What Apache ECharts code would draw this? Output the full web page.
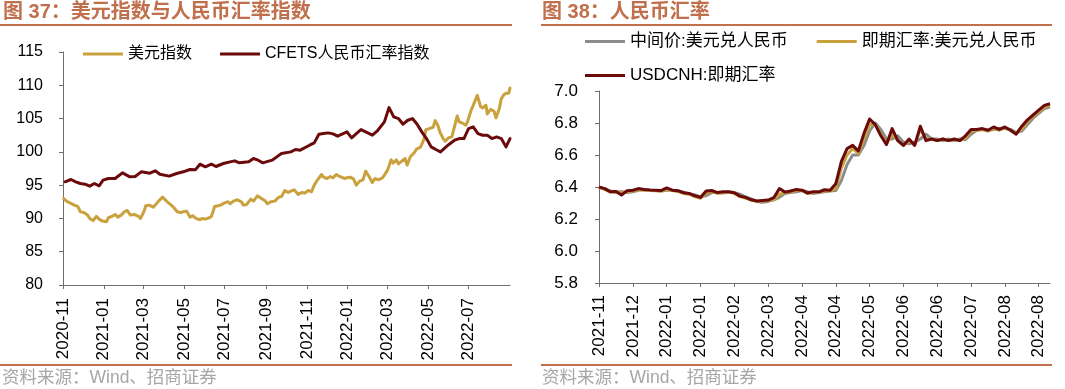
<!DOCTYPE html>
<html><head><meta charset="utf-8">
<script src="https://cdn.jsdelivr.net/npm/echarts@6/dist/echarts.min.js"></script>
<style>html,body{margin:0;padding:0;background:#fff}#c{width:1065px;height:389px}</style>
</head><body><div id="c"></div>
<script>
// ---------- Left chart data ----------
const dxyDates = ['2020-11-02','2020-11-06','2020-11-12','2020-11-18','2020-11-23','2020-11-27','2020-12-02','2020-12-07','2020-12-11','2020-12-16','2020-12-21','2020-12-25','2020-12-30','2021-01-05','2021-01-08','2021-01-13','2021-01-18','2021-01-22','2021-01-27','2021-02-01','2021-02-05','2021-02-10','2021-02-16','2021-02-22','2021-02-25','2021-03-02','2021-03-05','2021-03-10','2021-03-16','2021-03-19','2021-03-24','2021-03-30','2021-04-02','2021-04-07','2021-04-12','2021-04-16','2021-04-21','2021-04-26','2021-04-30','2021-05-05','2021-05-10','2021-05-14','2021-05-19','2021-05-25','2021-05-28','2021-06-02','2021-06-08','2021-06-11','2021-06-16','2021-06-21','2021-06-25','2021-06-30','2021-07-06','2021-07-09','2021-07-14','2021-07-20','2021-07-26','2021-07-29','2021-08-03','2021-08-09','2021-08-13','2021-08-19','2021-08-25','2021-08-31','2021-09-03','2021-09-08','2021-09-14','2021-09-20','2021-09-24','2021-09-29','2021-10-04','2021-10-08','2021-10-13','2021-10-19','2021-10-25','2021-10-29','2021-11-03','2021-11-08','2021-11-12','2021-11-17','2021-11-23','2021-11-26','2021-12-01','2021-12-06','2021-12-10','2021-12-15','2021-12-20','2021-12-27','2021-12-31','2022-01-05','2022-01-10','2022-01-14','2022-01-19','2022-01-24','2022-01-28','2022-02-02','2022-02-07','2022-02-11','2022-02-16','2022-02-22','2022-02-25','2022-03-02','2022-03-07','2022-03-10','2022-03-15','2022-03-18','2022-03-23','2022-03-28','2022-03-31','2022-04-05','2022-04-11','2022-04-14','2022-04-20','2022-04-25','2022-04-28','2022-05-03','2022-05-09','2022-05-12','2022-05-16','2022-05-19','2022-05-24','2022-05-27','2022-06-01','2022-06-06','2022-06-10','2022-06-14','2022-06-17','2022-06-22','2022-06-27','2022-06-30','2022-07-05','2022-07-08','2022-07-12','2022-07-14','2022-07-19','2022-07-22','2022-07-27','2022-07-29','2022-08-03','2022-08-08','2022-08-11','2022-08-16','2022-08-19','2022-08-23','2022-08-26','2022-08-30','2022-09-01'];
const dxyValues = [93.0,92.6,92.3,92.0,91.8,91.0,90.9,90.6,90.0,89.7,90.3,89.9,89.6,89.5,90.1,90.3,90.6,90.2,90.5,91.0,91.2,90.5,90.6,90.3,90.0,91.0,91.9,92.0,91.7,92.0,92.6,93.2,92.9,92.4,92.0,91.6,91.0,90.9,91.0,91.1,90.2,90.4,90.0,89.8,90.0,89.9,90.1,90.3,91.8,91.9,92.0,92.3,92.5,92.2,92.6,92.8,92.5,92.0,92.1,92.9,92.6,93.4,93.0,92.6,92.2,92.5,92.6,93.2,93.3,94.2,93.9,94.1,94.3,93.6,93.9,93.8,94.2,94.0,95.0,95.8,96.6,96.2,96.0,96.3,96.1,96.6,96.3,96.0,96.1,96.2,95.9,95.0,95.6,95.8,97.1,96.3,95.4,96.0,95.8,96.1,96.5,97.3,98.8,98.3,98.8,98.2,98.6,99.0,98.0,99.3,99.9,100.4,100.7,101.8,103.3,103.5,103.7,104.7,104.0,103.0,102.0,101.6,102.1,102.3,103.8,105.4,104.5,104.3,104.0,104.7,106.3,107.0,108.0,108.5,106.8,106.6,107.0,105.7,106.4,106.1,105.1,106.5,108.0,108.6,108.8,108.8,109.6];
const cfetsDates = ['2020-11-04','2020-11-13','2020-11-20','2020-11-27','2020-12-04','2020-12-11','2020-12-18','2020-12-25','2020-12-31','2021-01-08','2021-01-18','2021-01-29','2021-02-09','2021-02-17','2021-02-26','2021-03-11','2021-03-19','2021-03-26','2021-04-09','2021-04-20','2021-04-30','2021-05-10','2021-05-18','2021-05-25','2021-06-02','2021-06-11','2021-06-18','2021-06-29','2021-07-09','2021-07-16','2021-07-23','2021-08-06','2021-08-13','2021-08-20','2021-08-27','2021-09-10','2021-09-17','2021-09-24','2021-10-08','2021-10-15','2021-10-22','2021-11-05','2021-11-12','2021-11-19','2021-11-26','2021-12-03','2021-12-10','2021-12-17','2021-12-31','2022-01-07','2022-01-14','2022-01-21','2022-01-28','2022-02-07','2022-02-14','2022-02-25','2022-03-04','2022-03-11','2022-03-18','2022-03-25','2022-04-01','2022-04-08','2022-04-15','2022-04-22','2022-04-29','2022-05-06','2022-05-13','2022-05-20','2022-05-27','2022-06-02','2022-06-10','2022-06-17','2022-06-24','2022-07-01','2022-07-08','2022-07-15','2022-07-22','2022-07-29','2022-08-05','2022-08-12','2022-08-19','2022-08-26','2022-09-01'];
const cfetsValues = [95.5,95.85,95.5,95.25,95.15,94.85,95.25,94.9,95.75,96.0,96.0,96.85,96.25,96.3,97.0,96.8,97.15,96.65,96.35,96.75,97.0,97.35,97.3,98.15,97.75,98.15,97.8,98.25,98.5,98.65,98.35,98.5,99.0,98.75,98.35,98.75,99.25,99.75,100.0,100.35,100.25,101.0,101.35,102.65,102.75,102.85,102.7,102.35,103.0,102.1,102.75,103.35,103.0,102.5,103.1,104.5,106.65,105.25,105.0,104.15,104.75,105.0,104.15,103.0,102.0,100.75,100.35,100.0,100.65,101.15,101.75,102.0,102.0,103.5,103.75,102.75,102.5,102.5,102.0,102.25,102.0,100.75,102.0];
const leftTickDates = ['2020-11-01','2021-01-01','2021-03-01','2021-05-01','2021-07-01','2021-09-01','2021-11-01','2022-01-01','2022-03-01','2022-05-01','2022-07-01'];
const leftStart = '2020-11-01';
const leftEnd = '2022-09-01';

// ---------- Right chart data ----------
const rightTickLabels = ['2021-11','2021-12','2022-01','2022-01','2022-02','2022-03','2022-04','2022-04','2022-05','2022-06','2022-06','2022-07','2022-08','2022-08'];
const midRate = [6.398,6.390,6.375,6.370,6.370,6.365,6.370,6.380,6.385,6.380,6.378,6.375,6.380,6.380,6.375,6.368,6.357,6.350,6.340,6.345,6.365,6.365,6.363,6.368,6.365,6.355,6.338,6.325,6.310,6.305,6.310,6.320,6.335,6.360,6.365,6.370,6.378,6.370,6.360,6.365,6.370,6.375,6.378,6.440,6.540,6.600,6.600,6.660,6.750,6.800,6.760,6.700,6.700,6.720,6.680,6.670,6.680,6.700,6.730,6.700,6.700,6.690,6.700,6.690,6.700,6.695,6.730,6.755,6.760,6.755,6.760,6.765,6.765,6.760,6.740,6.750,6.790,6.830,6.860,6.890,6.900];
const spotRate = [6.398,6.385,6.368,6.370,6.362,6.370,6.375,6.385,6.380,6.378,6.376,6.374,6.385,6.378,6.372,6.360,6.355,6.340,6.330,6.362,6.372,6.360,6.365,6.368,6.360,6.340,6.330,6.318,6.310,6.312,6.315,6.320,6.355,6.365,6.370,6.378,6.378,6.360,6.365,6.368,6.375,6.376,6.390,6.520,6.600,6.640,6.610,6.700,6.790,6.790,6.730,6.670,6.730,6.690,6.660,6.690,6.665,6.760,6.700,6.700,6.690,6.700,6.690,6.695,6.690,6.705,6.750,6.755,6.760,6.750,6.765,6.755,6.770,6.755,6.735,6.760,6.810,6.840,6.870,6.900,6.910];
const cnhRate = [6.400,6.390,6.370,6.372,6.350,6.377,6.380,6.390,6.385,6.382,6.380,6.378,6.394,6.380,6.377,6.364,6.360,6.345,6.335,6.375,6.378,6.365,6.370,6.370,6.364,6.343,6.335,6.320,6.312,6.316,6.318,6.333,6.390,6.368,6.375,6.385,6.380,6.362,6.370,6.370,6.383,6.380,6.420,6.560,6.640,6.660,6.625,6.735,6.825,6.790,6.720,6.665,6.765,6.690,6.660,6.700,6.660,6.780,6.690,6.700,6.690,6.700,6.690,6.700,6.690,6.720,6.760,6.760,6.765,6.755,6.775,6.760,6.775,6.755,6.730,6.780,6.820,6.850,6.880,6.910,6.920];

// ---------- helpers ----------
const DAY = 86400000;
function utc(s){const p=s.split('-').map(Number);return Date.UTC(p[0],p[1]-1,p[2]);}
const base = utc(leftStart);
function dayNum(s){return Math.round((utc(s)-base)/DAY);}
function ymFromDay(v){const d=new Date(base+Math.round(v)*DAY);return d.getUTCFullYear()+'-'+String(d.getUTCMonth()+1).padStart(2,'0');}
const PER = 6;  // observations between labelled ticks on the right chart
const rightTicks = rightTickLabels.map((_,k)=>k*PER);
function rightLabel(v){const k=Math.round(v/PER);return (rightTickLabels[k]||'')+'\u200b'.repeat(k);}

const TITLE = '#C0704C';
const AX = '#6e6e6e';
const GOLD = '#C9A13D';
const DRED = '#6B0A0A';
const GRAY = '#8C8C8C';
const LAT = "'Liberation Sans','Noto Sans CJK SC',sans-serif";
const CJK = "'Liberation Sans','Noto Sans CJK SC',sans-serif";

const chart = echarts.init(document.getElementById('c'), null, {renderer:'canvas'});
const leftTicks = leftTickDates.map(dayNum);
chart.setOption({
  animation:false,
  backgroundColor:'#fff',
  grid:[
    {left:63, top:52, width:447, height:233, outerBoundsMode:'none', containLabel:false},
    {left:599, top:91, width:451, height:192, outerBoundsMode:'none', containLabel:false}
  ],
  legend:[
    {data:['美元指数','CFETS人民币汇率指数'], left:83, top:46, padding:0, itemWidth:40, itemHeight:3, icon:'rect', itemGap:28,
     textStyle:{fontSize:16, fontFamily:CJK, color:'#000'}},
    {data:['中间价:美元兑人民币','即期汇率:美元兑人民币'], left:585, top:33, padding:0, itemWidth:40, itemHeight:3, icon:'rect', itemGap:29,
     textStyle:{fontSize:17, fontFamily:CJK, color:'#000'}},
    {data:['USDCNH:即期汇率'], left:585, top:67, padding:0, itemWidth:40, itemHeight:3, icon:'rect',
     textStyle:{fontSize:17, fontFamily:CJK, color:'#000'}}
  ],
  xAxis:[
    {type:'value', gridIndex:0, min:0, max:dayNum(leftEnd),
     axisLine:{show:true, lineStyle:{color:AX, width:1}},
     axisTick:{show:true, customValues:leftTicks, length:4, lineStyle:{color:AX}},
     axisLabel:{customValues:leftTicks, rotate:90, margin:13, fontSize:17, fontFamily:LAT, color:'#000', formatter:v=>ymFromDay(v)},
     splitLine:{show:false}},
    {type:'value', gridIndex:1, min:0, max:cnhRate.length-1,
     axisLine:{show:true, lineStyle:{color:AX, width:1}},
     axisTick:{show:true, customValues:rightTicks, length:4, lineStyle:{color:AX}},
     axisLabel:{customValues:rightTicks, rotate:90, margin:12, fontSize:17, fontFamily:LAT, color:'#000', hideOverlap:false,
       formatter:v=>rightLabel(v)},
     splitLine:{show:false}}
  ],
  yAxis:[
    {type:'value', gridIndex:0, min:80, max:115, interval:5,
     axisLine:{show:true, lineStyle:{color:AX, width:1}},
     axisTick:{show:true, length:4, lineStyle:{color:AX}},
     axisLabel:{margin:20, fontSize:16, fontFamily:LAT, color:'#000'},
     splitLine:{show:false}},
    {type:'value', gridIndex:1, min:5.8, max:7.0, interval:0.2,
     axisLine:{show:true, lineStyle:{color:AX, width:1}},
     axisTick:{show:true, length:4, lineStyle:{color:AX}},
     axisLabel:{margin:21, fontSize:17, fontFamily:LAT, color:'#000', formatter:v=>v.toFixed(1)},
     splitLine:{show:false}}
  ],
  series:[
    {name:'美元指数', type:'line', xAxisIndex:0, yAxisIndex:0, showSymbol:false, symbol:'none', color:GOLD,
     lineStyle:{width:3, color:GOLD, join:'round', cap:'round'},
     data:dxyDates.map((d,i)=>[dayNum(d), dxyValues[i]])},
    {name:'CFETS人民币汇率指数', type:'line', xAxisIndex:0, yAxisIndex:0, showSymbol:false, symbol:'none', color:DRED,
     lineStyle:{width:3, color:DRED, join:'round', cap:'round'},
     data:cfetsDates.map((d,i)=>[dayNum(d), cfetsValues[i]])},
    {name:'中间价:美元兑人民币', type:'line', xAxisIndex:1, yAxisIndex:1, showSymbol:false, symbol:'none', color:GRAY,
     lineStyle:{width:3, color:GRAY, join:'round'}, data:midRate.map((v,i)=>[i,v])},
    {name:'即期汇率:美元兑人民币', type:'line', xAxisIndex:1, yAxisIndex:1, showSymbol:false, symbol:'none', color:GOLD,
     lineStyle:{width:3, color:GOLD, join:'round'}, data:spotRate.map((v,i)=>[i,v])},
    {name:'USDCNH:即期汇率', type:'line', xAxisIndex:1, yAxisIndex:1, showSymbol:false, symbol:'none', color:DRED,
     lineStyle:{width:3, color:DRED, join:'round'}, data:cnhRate.map((v,i)=>[i,v])}
  ],
  graphic:[
    {type:'text', x:3, y:12, style:{text:'图 37：美元指数与人民币汇率指数', fontSize:20, fontWeight:'bold', fontFamily:CJK, fill:TITLE, verticalAlign:'middle'}},
    {type:'rect', shape:{x:0, y:24, width:512, height:2}, style:{fill:TITLE}},
    {type:'text', x:542, y:12, style:{text:'图 38：人民币汇率', fontSize:20, fontWeight:'bold', fontFamily:CJK, fill:TITLE, verticalAlign:'middle'}},
    {type:'rect', shape:{x:541, y:24, width:511, height:2}, style:{fill:TITLE}},
    {type:'rect', shape:{x:0, y:364, width:512, height:2}, style:{fill:TITLE}},
    {type:'rect', shape:{x:541, y:364, width:511, height:2}, style:{fill:TITLE}},
    {type:'text', x:2, y:378, style:{text:'资料来源：Wind、招商证券', fontSize:17.5, fontFamily:CJK, fill:'#A6A6A6', verticalAlign:'middle'}},
    {type:'text', x:542, y:378, style:{text:'资料来源：Wind、招商证券', fontSize:17.5, fontFamily:CJK, fill:'#A6A6A6', verticalAlign:'middle'}}
  ]
});
</script>
</body></html>
